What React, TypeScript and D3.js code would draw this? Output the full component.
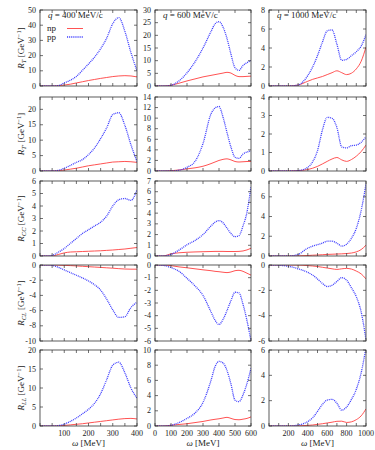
import * as d3 from "d3";

// omega grids (MeV) for the three q columns
const W400 = [0, 25, 50, 75, 100, 125, 150, 175, 200, 225, 250, 275, 300, 325, 350, 375, 400];
const W600 = [0, 50, 100, 150, 200, 250, 300, 350, 375, 400, 425, 450, 475, 500, 525, 550, 575, 600];
const W1000 = [0, 100, 200, 300, 400, 450, 500, 550, 600, 650, 700, 750, 800, 850, 900, 950, 1000];

// R_T
const RT_NP_400 = [0, 0, 0, 0.2, 0.6, 1.2, 2, 2.8, 3.6, 4.3, 5, 5.6, 6.2, 6.6, 6.8, 6.6, 6];
const RT_PP_400 = [0, 0, 0, 0.3, 2.0, 3.8, 6.3, 10.3, 14.5, 19, 24.5, 31.5, 41, 45, 36, 22, 10];
const RT_NP_600 = [0, 0, 0.3, 1.1, 2.0, 2.8, 3.6, 4.2, 4.5, 4.8, 5.1, 5.4, 5.1, 4.2, 3.7, 3.7, 3.8, 3.9];
const RT_PP_600 = [0, 0, 0.3, 2, 5.2, 9.5, 15, 21.5, 24.5, 25.4, 23.3, 18.8, 12.5, 7.2, 6.2, 8.1, 9.2, 10];
const RT_NP_1000 = [0, 0, 0, 0.1, 0.5, 0.7, 0.85, 1.0, 1.2, 1.4, 1.6, 1.4, 1.2, 1.35, 1.8, 2.6, 4.1];
const RT_PP_1000 = [0, 0, 0, 0.1, 1.1, 2.0, 3.2, 4.6, 5.8, 5.9, 4.4, 2.7, 2.8, 3.2, 3.6, 4.2, 5.4];

// R_T'
const RTP_NP_400 = [0, 0, 0, 0.1, 0.3, 0.6, 0.9, 1.3, 1.7, 2.0, 2.3, 2.6, 2.9, 3.0, 3.1, 3.0, 2.8];
const RTP_PP_400 = [0, 0, 0, 0.2, 0.9, 1.8, 2.8, 3.7, 5.3, 7.5, 10.5, 14, 18.3, 18.9, 14.8, 8.5, 3.1];
const RTP_NP_600 = [0, 0, 0.05, 0.2, 0.4, 0.6, 0.9, 1.4, 1.7, 2.0, 2.2, 2.3, 2.1, 1.8, 1.7, 1.75, 1.8, 1.8];
const RTP_PP_600 = [0, 0, 0, 0.15, 0.7, 1.8, 5.2, 10.8, 11.9, 12.2, 10.2, 7.3, 4.5, 2.6, 2.4, 3.2, 3.6, 3.8];
const RTP_NP_1000 = [0, 0, 0, 0.02, 0.08, 0.15, 0.25, 0.38, 0.52, 0.65, 0.73, 0.6, 0.52, 0.62, 0.8, 1.05, 1.4];
const RTP_PP_1000 = [0, 0, 0, 0.02, 0.2, 0.5, 1.1, 2.2, 2.9, 2.85, 2.35, 1.3, 1.25, 1.37, 1.4, 1.55, 1.85];

// R_CC
const RCC_NP_400 = [0, 0, 0, 0.12, 0.25, 0.32, 0.34, 0.36, 0.38, 0.4, 0.42, 0.45, 0.48, 0.52, 0.56, 0.62, 0.68];
const RCC_PP_400 = [0, 0, 0.05, 0.3, 0.6, 1.0, 1.4, 1.8, 2.1, 2.4, 2.7, 3.2, 4.0, 4.5, 4.6, 4.45, 5.3];
const RCC_NP_600 = [0, 0, 0.2, 0.3, 0.35, 0.38, 0.4, 0.42, 0.43, 0.43, 0.43, 0.42, 0.42, 0.42, 0.43, 0.47, 0.57, 0.72];
const RCC_PP_600 = [0, 0, 0.15, 0.55, 1.05, 1.45, 2.0, 2.8, 3.15, 3.3, 3.1, 2.6, 2.1, 1.8, 1.9, 2.8, 4.1, 6.5];
const RCC_NP_1000 = [0, 0, 0, 0.01, 0.05, 0.08, 0.1, 0.13, 0.16, 0.18, 0.2, 0.22, 0.25, 0.3, 0.42, 0.65, 1.1];
const RCC_PP_1000 = [0, 0, 0, 0.15, 0.8, 1.0, 1.15, 1.3, 1.5, 1.5, 1.3, 1.0, 1.2, 1.8, 2.8, 4.6, 7.3];

// R_CL
const RCL_NP_400 = [0, 0, 0, -0.02, -0.05, -0.08, -0.12, -0.17, -0.22, -0.27, -0.32, -0.37, -0.42, -0.48, -0.53, -0.55, -0.55];
const RCL_PP_400 = [0, 0, -0.05, -0.3, -0.65, -1.0, -1.35, -1.7, -2.1, -2.6, -3.3, -4.5, -5.9, -6.9, -6.8, -5.6, -4.9];
const RCL_NP_600 = [0, 0, -0.05, -0.15, -0.22, -0.3, -0.38, -0.45, -0.5, -0.53, -0.57, -0.6, -0.55, -0.45, -0.42, -0.5, -0.65, -0.8];
const RCL_PP_600 = [0, -0.03, -0.2, -0.5, -1.05, -1.65, -2.4, -3.7, -4.35, -4.7, -4.3, -3.6, -2.8, -2.15, -2.2, -3.1, -4.4, -6];
const RCL_NP_1000 = [0, 0, 0, 0, -0.05, -0.08, -0.12, -0.18, -0.24, -0.3, -0.35, -0.3, -0.27, -0.32, -0.48, -0.7, -1.1];
const RCL_PP_1000 = [0, -0.02, -0.1, -0.3, -0.58, -0.8, -1.1, -1.45, -1.7, -1.6, -1.3, -1.0, -1.2, -1.8, -2.5, -3.7, -5.9];

// R_LL
const RLL_NP_400 = [0, 0, 0, 0.05, 0.15, 0.3, 0.45, 0.6, 0.8, 1.0, 1.2, 1.4, 1.6, 1.8, 1.95, 2.0, 1.85];
const RLL_PP_400 = [0, 0, 0, 0.1, 0.5, 1.2, 2.1, 3.2, 4.4, 6.0, 8.5, 12.2, 16, 16.8, 14, 10, 7.3];
const RLL_NP_600 = [0, 0, 0.1, 0.2, 0.3, 0.45, 0.6, 0.8, 0.88, 0.95, 1.05, 1.14, 1.0, 0.85, 0.82, 0.9, 1.0, 1.2];
const RLL_PP_600 = [0, 0, 0.1, 0.45, 1.0, 1.7, 3.1, 6.0, 7.8, 8.5, 8.3, 7.3, 5.5, 3.4, 3.2, 4.1, 5.6, 7.6];
const RLL_NP_1000 = [0, 0, 0, 0.01, 0.05, 0.08, 0.13, 0.18, 0.24, 0.3, 0.37, 0.38, 0.28, 0.33, 0.5, 0.8, 1.35];
const RLL_PP_1000 = [0, 0, 0, 0.08, 0.35, 0.65, 1.15, 1.7, 2.05, 2.1, 1.8, 1.25, 1.5, 2.1, 2.9, 4.2, 6.2];

const Q_VALUES = ["400", "600", "1000"];
const ROW_NAMES = ["T", "T′", "CC", "CL", "LL"];
const Y_DOMAINS = [
  [[0, 50], [0, 30], [0, 8]],
  [[0, 24], [0, 14], [0, 4]],
  [[0, 6], [0, 7], [0, 7.6]],
  [[-10, 0], [-6, 0], [-6, 0]],
  [[0, 20], [0, 10], [0, 6]],
];
const Y_STEPS = [
  [10, 5, 2],
  [5, 2, 1],
  [1, 1, 2],
  [2, 1, 2],
  [5, 2, 2],
];

const X_COLS = [
  { grid: W400, domain: [0, 400], tickStep: 50, labelStep: 100, showZero: false },
  { grid: W600, domain: [0, 600], tickStep: 100, labelStep: 100, showZero: true },
  { grid: W1000, domain: [0, 1000], tickStep: 100, labelStep: 200, showZero: false },
];

const NP = [
  [RT_NP_400, RT_NP_600, RT_NP_1000],
  [RTP_NP_400, RTP_NP_600, RTP_NP_1000],
  [RCC_NP_400, RCC_NP_600, RCC_NP_1000],
  [RCL_NP_400, RCL_NP_600, RCL_NP_1000],
  [RLL_NP_400, RLL_NP_600, RLL_NP_1000],
];
const PP = [
  [RT_PP_400, RT_PP_600, RT_PP_1000],
  [RTP_PP_400, RTP_PP_600, RTP_PP_1000],
  [RCC_PP_400, RCC_PP_600, RCC_PP_1000],
  [RCL_PP_400, RCL_PP_600, RCL_PP_1000],
  [RLL_PP_400, RLL_PP_600, RLL_PP_1000],
];

const COL_X = [[40, 137], [155, 251], [269, 366]];
const ROW_Y = [[10, 86], [97, 171], [181, 256], [265, 341], [350, 426]];

const FONT = "'Liberation Serif', 'DejaVu Serif', serif";
const RED = "#ff4040";
const BLUE = "#3c3cff";
const BLUE_W = 1.3;
const BLUE_DASH = "1,0.9";
const TICK = 3;

function range(a, b, step) {
  const out = [];
  for (let v = a; v <= b + 1e-9; v += step) out.push(Math.round(v * 1000) / 1000);
  return out;
}

function Panel({ r, c }) {
  const [x0, x1] = COL_X[c];
  const [y0, y1] = ROW_Y[r];
  const col = X_COLS[c];
  const x = d3.scaleLinear().domain(col.domain).range([x0, x1]);
  const dom = Y_DOMAINS[r][c];
  const y = d3.scaleLinear().domain(dom).range([y1, y0]);
  const line = d3
    .line()
    .x((d) => x(d[0]))
    .y((d) => y(d[1]))
    .curve(d3.curveMonotoneX);
  const np = col.grid.map((w, i) => [w, NP[r][c][i]]);
  const pp = col.grid.map((w, i) => [w, PP[r][c][i]]);
  const yTicks = range(dom[0], dom[1], Y_STEPS[r][c]).filter((v) => v <= dom[1]);
  const xTicks = range(col.domain[0], col.domain[1], col.tickStep);
  const clipId = `clip-${r}-${c}`;
  const isBottom = r === ROW_Y.length - 1;

  return (
    <g>
      <defs>
        <clipPath id={clipId}>
          <rect x={x0} y={y0} width={x1 - x0} height={y1 - y0} />
        </clipPath>
      </defs>
      <g clipPath={`url(#${clipId})`}>
        <path d={line(np)} fill="none" stroke={RED} strokeWidth={0.9} />
        <path d={line(pp)} fill="none" stroke={BLUE} strokeWidth={BLUE_W} strokeDasharray={BLUE_DASH} />
      </g>
      <rect x={x0} y={y0} width={x1 - x0} height={y1 - y0} fill="none" stroke="#333" strokeWidth={0.8} />
      {yTicks.map((v) => (
        <g key={`y${v}`}>
          <line x1={x0} x2={x0 + TICK} y1={y(v)} y2={y(v)} stroke="#333" strokeWidth={0.7} />
          <line x1={x1} x2={x1 - TICK} y1={y(v)} y2={y(v)} stroke="#333" strokeWidth={0.7} />
          <text x={x0 - 4} y={y(v)} dy="0.33em" textAnchor="end" fontSize={8} fontFamily={FONT} fill="#222">
            {v}
          </text>
        </g>
      ))}
      {xTicks.map((v) => (
        <g key={`x${v}`}>
          <line x1={x(v)} x2={x(v)} y1={y1} y2={y1 - TICK} stroke="#333" strokeWidth={0.7} />
          <line x1={x(v)} x2={x(v)} y1={y0} y2={y0 + TICK} stroke="#333" strokeWidth={0.7} />
          {isBottom && v % col.labelStep === 0 && (v !== 0 || col.showZero) && (
            <text x={x(v)} y={y1 + 10} textAnchor="middle" fontSize={8} fontFamily={FONT} fill="#222">
              {v}
            </text>
          )}
        </g>
      ))}
      {r === 0 && (
        <text x={x0 + 8} y={y0 + 8} fontSize={9} fontFamily={FONT} fill="#222">
          <tspan fontStyle="italic">q</tspan> = {Q_VALUES[c]} MeV/c
        </text>
      )}
      {isBottom && (
        <text x={(x0 + x1) / 2} y={y1 + 20} textAnchor="middle" fontSize={9} fontFamily={FONT} fill="#222">
          <tspan fontStyle="italic">ω</tspan> [MeV]
        </text>
      )}
    </g>
  );
}

function RowLabel({ r }) {
  const [y0, y1] = ROW_Y[r];
  const cy = (y0 + y1) / 2;
  return (
    <text
      transform={`translate(24,${cy}) rotate(-90)`}
      textAnchor="middle"
      fontSize={9}
      fontFamily={FONT}
      fill="#222"
    >
      <tspan fontStyle="italic">R</tspan>
      <tspan fontStyle="italic" fontSize={6.5} dy={2}>{ROW_NAMES[r]}</tspan>
      <tspan dy={-2}>{" [GeV"}</tspan>
      <tspan fontSize={6.5} dy={-3}>−1</tspan>
      <tspan dy={3}>]</tspan>
    </text>
  );
}

function Legend() {
  const [x0] = COL_X[0];
  const [y0] = ROW_Y[0];
  const items = [
    { name: "np", color: RED, width: 0.9, dash: null },
    { name: "pp", color: BLUE, width: BLUE_W, dash: BLUE_DASH },
  ];
  return (
    <g>
      {items.map((it, i) => (
        <g key={it.name}>
          <text x={x0 + 7} y={y0 + 21 + i * 8.5} fontSize={9} fontFamily={FONT} fill="#222">
            {it.name}
          </text>
          <line
            x1={x0 + 27}
            x2={x0 + 43}
            y1={y0 + 18.5 + i * 8.5}
            y2={y0 + 18.5 + i * 8.5}
            stroke={it.color}
            strokeWidth={it.width}
            strokeDasharray={it.dash ?? undefined}
          />
        </g>
      ))}
    </g>
  );
}

export default function App() {
  return (
    <div style={{ position: "absolute", left: 0, top: 0, width: 375, height: 450, background: "#fff" }}>
      <svg width={375} height={450}>
        <rect width={375} height={450} fill="#fff" />
        {ROW_Y.map((_, r) =>
          COL_X.map((_, c) => <Panel key={`${r}-${c}`} r={r} c={c} />)
        )}
        {ROW_Y.map((_, r) => (
          <RowLabel key={r} r={r} />
        ))}
        <Legend />
      </svg>
    </div>
  );
}
